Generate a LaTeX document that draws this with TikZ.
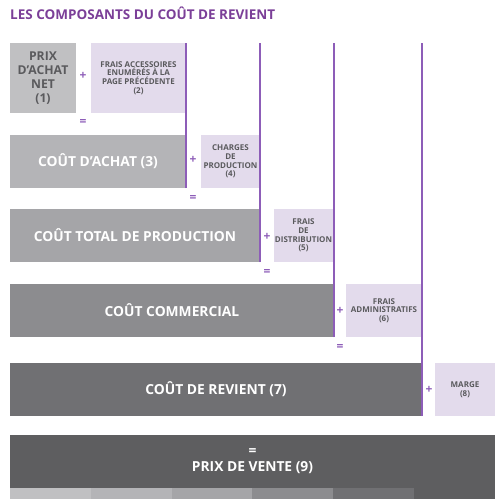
\documentclass[tikz,border=0pt]{standalone}
\usepackage{fontspec}
\setmainfont{Open Sans}
\usetikzlibrary{positioning}

\definecolor{titrepurple}{HTML}{7B3F98}
\definecolor{traitpurple}{HTML}{8D5DB8}
\definecolor{lavande}{HTML}{E3DBEC}
\definecolor{textegris}{HTML}{5A5A5D}
\definecolor{gris1}{HTML}{C0C0C2}
\definecolor{gris2}{HTML}{B4B4B7}
\definecolor{gris3}{HTML}{A5A5A8}
\definecolor{gris4}{HTML}{8C8C8F}
\definecolor{gris5}{HTML}{707073}
\definecolor{gris6}{HTML}{5E5E60}

\begin{document}
\begin{tikzpicture}[x=1pt, y=-1pt,
    cout/.style={minimum height=53pt, inner sep=0pt, align=center, text=white,
      font=\bfseries\fontsize{13.8}{16}\selectfont},
    frais/.style={fill=lavande, minimum height=53pt, inner sep=0pt, align=center, text=textegris,
      font=\bfseries\fontsize{8}{8.6}\selectfont},
    op/.style={text=traitpurple, inner sep=0pt, font=\bfseries\fontsize{12}{12}\selectfont},
    trait/.style={draw=traitpurple, line width=1.6pt}
]
\useasboundingbox (0,0) rectangle (500,504);

% titre
\node[anchor=base west, inner sep=0pt, text=titrepurple, font=\bfseries\fontsize{13.5}{15}\selectfont]
  (titre) at (10,19) {LES COMPOSANTS DU COÛT DE REVIENT};

% ligne 1
\node[cout, fill=gris1, text=textegris, minimum width=66pt, minimum height=70pt,
  font=\bfseries\fontsize{12.2}{14.2}\selectfont] (prix) at (43,78) {PRIX\\D’ACHAT\\NET\\(1)};
\node[frais, minimum width=95pt, minimum height=70pt] (accessoires) at (138.5,78)
  {FRAIS ACCESSOIRES\\ENUMÉRÉS À LA\\PAGE PRÉCÉDENTE\\(2)};
\node[op] (plus1) at (83,76) {+};
\node[op] (egal1) at (83,122) {=};

% ligne 2
\node[cout, fill=gris2, minimum width=176pt] (achat) at (98,161.5) {COÛT D’ACHAT (3)};
\node[frais, minimum width=59pt] (production) at (230.5,161.5) {CHARGES\\DE\\PRODUCTION\\(4)};
\node[op] (plus2) at (193,160) {+};
\node[op] (egal2) at (193,198) {=};

% ligne 3
\node[cout, fill=gris3, minimum width=250pt] (total) at (135,235.5) {COÛT TOTAL DE PRODUCTION};
\node[frais, minimum width=59pt] (distribution) at (303.5,235.5) {FRAIS\\DE\\DISTRIBUTION\\(5)};
\node[op] (plus3) at (267,237) {+};
\node[op] (egal3) at (267,272) {=};

% ligne 4
\node[cout, fill=gris4, minimum width=324pt] (commercial) at (172,310.5) {COÛT COMMERCIAL};
\node[frais, minimum width=76pt] (admin) at (384,310.5) {FRAIS\\ADMINISTRATIFS\\(6)};
\node[op] (plus4) at (340,311) {+};
\node[op] (egal4) at (340,347) {=};

% ligne 5
\node[cout, fill=gris5, minimum width=412pt] (revient) at (216,389.5) {COÛT DE REVIENT (7)};
\node[frais, minimum width=60pt] (marge) at (465,389.5) {MARGE\\(8)};
\node[op] (plus5) at (429,390) {+};

% ligne 6
\node[cout, fill=gris6, minimum width=485pt] (vente) at (252.5,461.5) {=\\PRIX DE VENTE (9)};
\foreach \c [count=\i from 0] in {gris1,gris2,gris3,gris4,gris5,gris6}
  \fill[\c] (10+80.83*\i,488) rectangle (10+80.83*\i+80.83,499);

% traits verticaux
\draw[trait] (achat.south east) -- (achat.south east |- accessoires.north);
\draw[trait] (total.south east) -- (total.south east |- accessoires.north);
\draw[trait] (commercial.south east) -- (commercial.south east |- accessoires.north);
\draw[trait] (revient.south east) -- (revient.south east |- accessoires.north);
\end{tikzpicture}
\end{document}
